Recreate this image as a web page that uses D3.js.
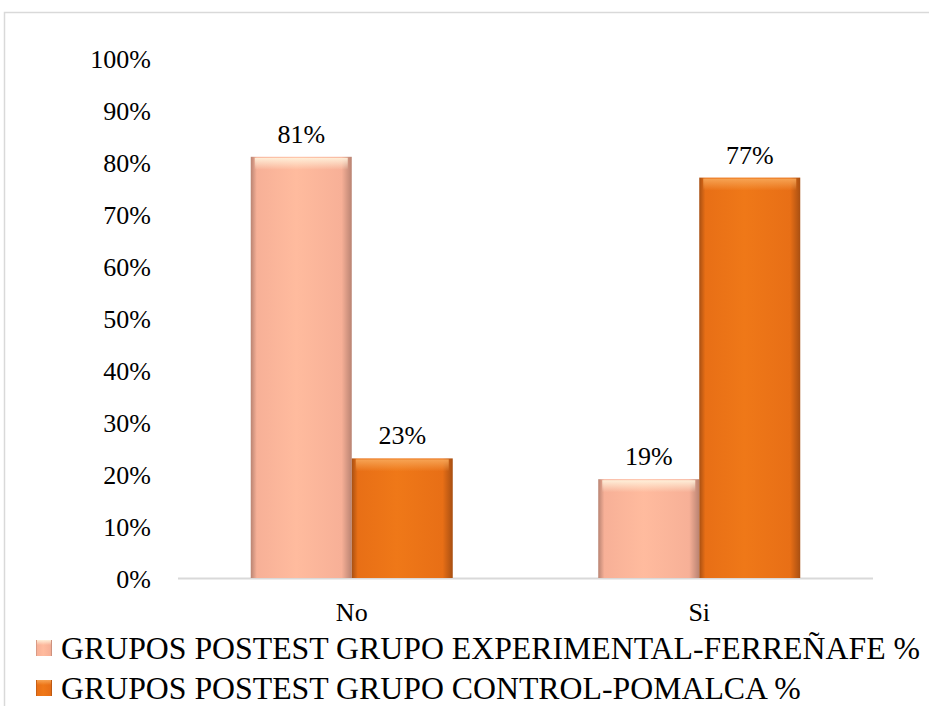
<!DOCTYPE html>
<html>
<head>
<meta charset="utf-8">
<script src="https://cdn.jsdelivr.net/npm/d3@7"></script>
<style>
  html, body { margin: 0; padding: 0; background: #fff; }
  svg { display: block; }
</style>
</head>
<body>
<svg id="chart" width="929" height="706"></svg>
<script>
const categories = ["No", "Si"];
const seriesNames = [
  "GRUPOS POSTEST GRUPO EXPERIMENTAL-FERREÑAFE %",
  "GRUPOS POSTEST GRUPO CONTROL-POMALCA %"
];
const experimentalValues = [81, 19];
const controlValues = [23, 77];
const tickValues = [0, 10, 20, 30, 40, 50, 60, 70, 80, 90, 100];

const seriesValues = [experimentalValues, controlValues];
const data = categories.map((c, i) => ({
  cat: c,
  vals: seriesValues.map((s, k) => ({ k, v: s[i] }))
}));

const FONT = '"Liberation Serif"';
const svg = d3.select("#chart");

// frame
svg.append("rect").attr("x", 4.5).attr("y", 12.5).attr("width", 940).attr("height", 720)
  .attr("fill", "none").attr("stroke", "#d9d9d9").attr("stroke-width", 1.5);

const margin = { left: 178, right: 873, top: 58, bottom: 578 };
const x = d3.scaleBand().domain(categories).range([margin.left, margin.right]).paddingInner(0).paddingOuter(0);
const y = d3.scaleLinear().domain([0, 100]).range([margin.bottom, margin.top]);
const groupW = 202;
const x1 = d3.scaleBand().domain([0, 1]).range([0, groupW]).padding(0);

// gradients
const defs = svg.append("defs");
const palettes = [
  { edge: "#b98372", mid: "#f7b097", light: "#ffbb9e", top: "#fff2dc" },
  { edge: "#a84f12", mid: "#e86f16", light: "#ef7818", top: "#f7a657" }
];
palettes.forEach((p, k) => {
  const g = defs.append("linearGradient").attr("id", "hg" + k).attr("x1", 0).attr("x2", 1).attr("y1", 0).attr("y2", 0);
  g.append("stop").attr("offset", "0%").attr("stop-color", p.edge);
  g.append("stop").attr("offset", "6%").attr("stop-color", p.mid);
  g.append("stop").attr("offset", "45%").attr("stop-color", p.light);
  g.append("stop").attr("offset", "90%").attr("stop-color", p.mid);
  g.append("stop").attr("offset", "100%").attr("stop-color", p.edge);
  const v = defs.append("linearGradient").attr("id", "vg" + k).attr("x1", 0).attr("x2", 0).attr("y1", 0).attr("y2", 1);
  v.append("stop").attr("offset", "0%").attr("stop-color", p.top).attr("stop-opacity", 0.95);
  v.append("stop").attr("offset", "100%").attr("stop-color", p.top).attr("stop-opacity", 0);
});

// y axis labels
const yAxis = d3.axisLeft(y).tickValues(tickValues).tickFormat(d => d + "%").tickSize(0).tickPadding(0);
const ya = svg.append("g").attr("transform", "translate(151,0)").call(yAxis);
ya.select(".domain").remove();
ya.selectAll("text").style("font-family", FONT).style("font-size", "26px").attr("fill", "#000").attr("dy", "0.35em");

// baseline axis
svg.append("line").attr("x1", margin.left).attr("x2", margin.right).attr("y1", y(0) + 0.5).attr("y2", y(0) + 0.5)
  .attr("stroke", "#d9d9d9").attr("stroke-width", 2);

// bars
const groups = svg.append("g").selectAll("g").data(data).join("g")
  .attr("transform", d => `translate(${x(d.cat) + x.bandwidth() / 2 - groupW / 2},0)`);

groups.each(function(d) {
  const g = d3.select(this);
  d.vals.forEach(o => {
    const bx = x1(o.k), bw = x1.bandwidth(), by = y(o.v), bh = y(0) - y(o.v);
    g.append("rect").attr("x", bx).attr("y", by).attr("width", bw).attr("height", bh)
      .attr("fill", `url(#hg${o.k})`);
    g.append("rect").attr("x", bx + 4).attr("y", by + 1).attr("width", bw - 8).attr("height", Math.min(12, bh))
      .attr("fill", `url(#vg${o.k})`);
    g.append("text").attr("x", bx + bw / 2).attr("y", by - 14).attr("text-anchor", "middle")
      .style("font-family", FONT).style("font-size", "26px").attr("fill", "#000").text(o.v + "%");
  });
});

// x axis labels
const xAxis = d3.axisBottom(x).tickSize(0).tickPadding(0);
const xa = svg.append("g").attr("transform", `translate(0,${y(0)})`).call(xAxis);
xa.select(".domain").remove();
xa.selectAll("text").style("font-family", FONT).style("font-size", "26px").attr("fill", "#000").attr("dy", 0).attr("y", 43);

// legend
const leg = svg.append("g");
seriesNames.forEach((name, k) => {
  const ly = 659 + k * 40;
  leg.append("rect").attr("x", 36).attr("y", ly - 19).attr("width", 16).attr("height", 16)
    .attr("fill", `url(#hg${k})`);
  leg.append("rect").attr("x", 37).attr("y", ly - 19).attr("width", 14).attr("height", 5)
    .attr("fill", `url(#vg${k})`);
  leg.append("text").attr("x", 61).attr("y", ly)
    .style("font-family", FONT).style("font-size", "31.8px")
    .attr("fill", "#000").text(name);
});
</script>
</body>
</html>
